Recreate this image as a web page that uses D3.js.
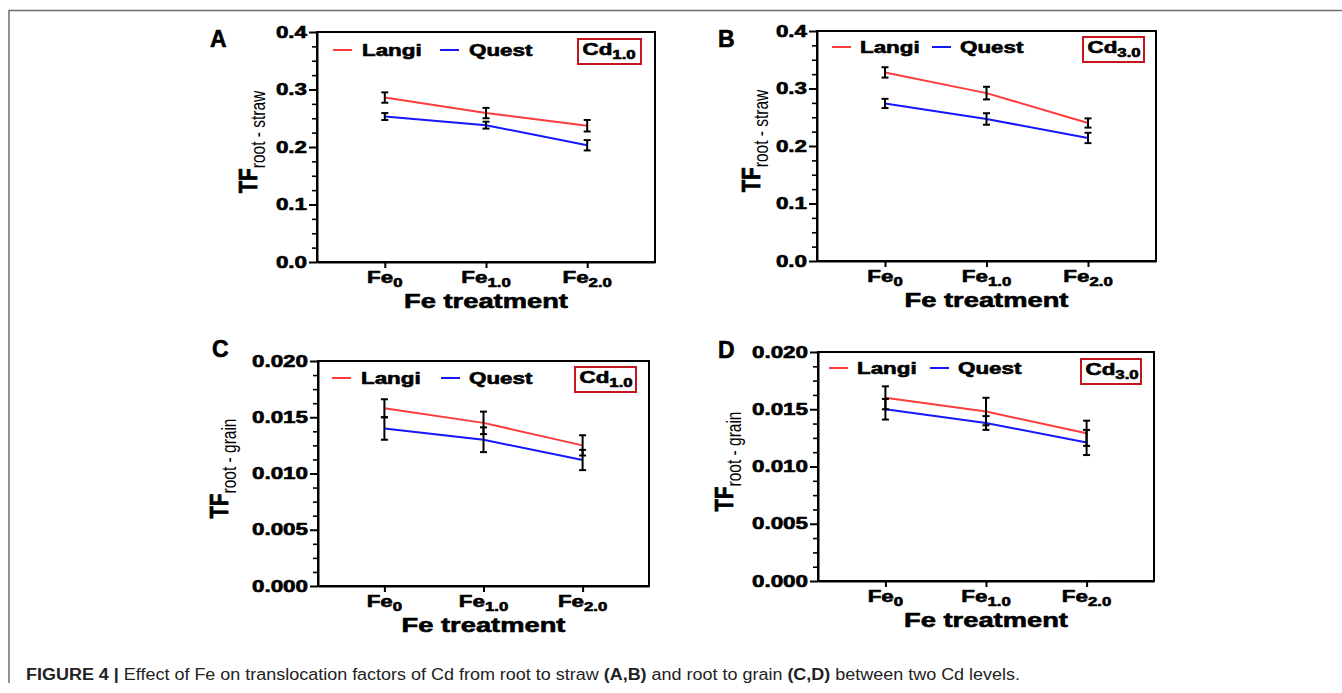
<!DOCTYPE html>
<html>
<head>
<meta charset="utf-8">
<script src="https://cdn.jsdelivr.net/npm/d3@7"></script>
<style>
  body { margin: 0; background: #fff; }
  svg { display: block; font-family: "Liberation Sans", Arial, Helvetica, sans-serif; }
</style>
</head>
<body>
<svg id="fig" width="1342" height="693"></svg>
<script>
// categories / tick labels
const categories = ["Fe0", "Fe1.0", "Fe2.0"];
const feBase = "Fe";
const feSubs = ["0", "1.0", "2.0"];
const seriesNames = ["Langi", "Quest"];
const strawTicks = [0, 0.1, 0.2, 0.3, 0.4];
const grainTicks = [0, 0.005, 0.010, 0.015, 0.020];

// A: root -> straw, Cd 1.0
const langiStrawCd1 = [0.286, 0.259, 0.237];
const langiStrawCd1Err = [0.009, 0.009, 0.010];
const questStrawCd1 = [0.253, 0.238, 0.203];
const questStrawCd1Err = [0.006, 0.006, 0.009];
// B: root -> straw, Cd 3.0
const langiStrawCd3 = [0.328, 0.292, 0.240];
const langiStrawCd3Err = [0.009, 0.011, 0.008];
const questStrawCd3 = [0.274, 0.247, 0.214];
const questStrawCd3Err = [0.008, 0.010, 0.009];
// C: root -> grain, Cd 1.0
const langiGrainCd1 = [0.0158, 0.0145, 0.0125];
const langiGrainCd1Err = [0.0008, 0.0010, 0.0009];
const questGrainCd1 = [0.0140, 0.0130, 0.0112];
const questGrainCd1Err = [0.0010, 0.0011, 0.0009];
// D: root -> grain, Cd 3.0
const langiGrainCd3 = [0.0160, 0.0148, 0.0129];
const langiGrainCd3Err = [0.0010, 0.0012, 0.0011];
const questGrainCd3 = [0.0150, 0.0138, 0.0121];
const questGrainCd3Err = [0.0009, 0.0006, 0.0011];

const RED = "#ff3c3c", BLUE = "#1616ff", BOXRED = "#c4161c";
const SX = 1.4; // the figure's text is stretched horizontally

const panels = [
  { letter: "A", cd: "1.0", sub: "root - straw", ticks: strawTicks, fmt: ".1f",
    langi: langiStrawCd1, langiErr: langiStrawCd1Err, quest: questStrawCd1, questErr: questStrawCd1Err,
    box: { l: 317, t: 32, r: 655, b: 262 }, letterPos: [210, 47], titleGap: 60,
    leg: { x: 16, y: 18, lt: 45, bx: 123, qt: 152 }, cdBox: { dx: -77, dy: 7, w: 63 } },
  { letter: "B", cd: "3.0", sub: "root - straw", ticks: strawTicks, fmt: ".1f",
    langi: langiStrawCd3, langiErr: langiStrawCd3Err, quest: questStrawCd3, questErr: questStrawCd3Err,
    box: { l: 817, t: 31, r: 1156, b: 261 }, letterPos: [718, 47], titleGap: 57,
    leg: { x: 15, y: 16, lt: 43, bx: 115, qt: 143 }, cdBox: { dx: -73, dy: 6, w: 61 } },
  { letter: "C", cd: "1.0", sub: "root - grain", ticks: grainTicks, fmt: ".3f",
    langi: langiGrainCd1, langiErr: langiGrainCd1Err, quest: questGrainCd1, questErr: questGrainCd1Err,
    box: { l: 318, t: 361, r: 649, b: 586 }, letterPos: [212, 357], titleGap: 90,
    leg: { x: 14, y: 17, lt: 43, bx: 123, qt: 151 }, cdBox: { dx: -74, dy: 6, w: 61 } },
  { letter: "D", cd: "3.0", sub: "root - grain", ticks: grainTicks, fmt: ".3f",
    langi: langiGrainCd3, langiErr: langiGrainCd3Err, quest: questGrainCd3, questErr: questGrainCd3Err,
    box: { l: 818, t: 352, r: 1154, b: 581 }, letterPos: [718, 358], titleGap: 85,
    leg: { x: 11, y: 16, lt: 39, bx: 112, qt: 140 }, cdBox: { dx: -73, dy: 7, w: 60 } }
];

const svg = d3.select("#fig");

// outer frame of the figure
svg.append("path")
  .attr("d", "M9,683V10.5H1342")
  .attr("fill", "none").attr("stroke", "#6e6e6e").attr("stroke-width", 1.5);

function heavy(sel) {
  return sel.attr("stroke", "#000").attr("stroke-width", 0.6).attr("stroke-linejoin", "round");
}

function stretched(g, x, y, anchor) {
  return heavy(g.append("text")
    .attr("transform", `translate(${x},${y}) scale(${SX},1)`)
    .attr("text-anchor", anchor || "start")
    .attr("font-weight", "bold")
    .attr("fill", "#000"));
}

panels.forEach(p => {
  const g = svg.append("g");
  const b = p.box;
  const x = d3.scalePoint().domain(categories).range([b.l, b.r]).padding(0.67);
  const y = d3.scaleLinear().domain([0, d3.max(p.ticks)]).range([b.b, b.t]);

  // frame of plot
  g.append("rect")
    .attr("x", b.l).attr("y", b.t).attr("width", b.r - b.l).attr("height", b.b - b.t)
    .attr("fill", "none").attr("stroke", "#000").attr("stroke-width", 2);

  // minor ticks: 3 between each pair of majors
  const minor = [];
  for (let i = 0; i < p.ticks.length - 1; i++) {
    const step = (p.ticks[i + 1] - p.ticks[i]) / 4;
    for (let k = 1; k < 4; k++) minor.push(p.ticks[i] + step * k);
  }
  g.append("g").attr("transform", `translate(${b.l},0)`)
    .call(d3.axisLeft(y).tickValues(minor).tickSize(5).tickSizeOuter(0).tickFormat(""))
    .call(s => s.select(".domain").remove())
    .call(s => s.selectAll("line").attr("stroke-width", 1.6));

  const yAx = g.append("g").attr("transform", `translate(${b.l},0)`)
    .call(d3.axisLeft(y).tickValues(p.ticks).tickSize(8).tickSizeOuter(0).tickFormat(d3.format(p.fmt)));
  yAx.select(".domain").attr("stroke-width", 2);
  yAx.selectAll("line").attr("stroke-width", 2);
  heavy(yAx.selectAll("text")
    .attr("x", -10 / SX)
    .attr("transform", `scale(${SX},1)`)
    .attr("fill", "#000")
    .style("font-size", "16px").style("font-weight", "bold")
    .style("font-family", "'Liberation Sans', Arial, sans-serif"));

  const xAx = g.append("g").attr("transform", `translate(0,${b.b})`)
    .call(d3.axisBottom(x).tickSize(6).tickSizeOuter(0).tickFormat(""));
  xAx.select(".domain").attr("stroke-width", 2);
  xAx.selectAll("line").attr("stroke-width", 2);

  categories.forEach((c, i) => {
    const t = stretched(g, x(c), b.b + 21, "middle").style("font-size", "16px");
    t.append("tspan").text(feBase);
    t.append("tspan").attr("dy", 4).style("font-size", "12px").text(feSubs[i]);
  });

  stretched(g, (b.l + b.r) / 2, b.b + 46, "middle")
    .style("font-size", "19.5px").text("Fe treatment");

  // y title
  const yt = g.append("text")
    .attr("transform", `translate(${b.l - p.titleGap},${(b.t + b.b) / 2 - 5}) scale(1.3,1) rotate(-90)`)
    .attr("text-anchor", "middle").attr("fill", "#000");
  heavy(yt.append("tspan").attr("font-weight", "bold").style("font-size", "20.5px").text("TF"));
  yt.append("tspan").attr("dy", 6).style("font-size", "15.5px").text(p.sub);

  // panel letter
  heavy(g.append("text").attr("x", p.letterPos[0]).attr("y", p.letterPos[1])
    .attr("font-weight", "bold").style("font-size", "23px").text(p.letter));

  // lines
  const line = d3.line().x((d, i) => x(categories[i])).y(d => y(d));
  const series = [
    { v: p.langi, e: p.langiErr, c: RED },
    { v: p.quest, e: p.questErr, c: BLUE }
  ];
  series.forEach(s => {
    g.append("path").datum(s.v).attr("d", line)
      .attr("fill", "none").attr("stroke", s.c).attr("stroke-width", 2);
  });
  series.forEach(s => {
    const eg = g.append("g").attr("stroke", "#000").attr("stroke-width", 2);
    s.v.forEach((v, i) => {
      const cx = x(categories[i]);
      const y1 = y(v + s.e[i]), y2 = y(v - s.e[i]);
      eg.append("line").attr("x1", cx).attr("x2", cx).attr("y1", y1).attr("y2", y2);
      eg.append("line").attr("x1", cx - 3.5).attr("x2", cx + 3.5).attr("y1", y1).attr("y2", y1);
      eg.append("line").attr("x1", cx - 3.5).attr("x2", cx + 3.5).attr("y1", y2).attr("y2", y2);
    });
  });

  // legend
  const L = p.leg, ly = b.t + L.y;
  g.append("line").attr("x1", b.l + L.x).attr("x2", b.l + L.x + 19).attr("y1", ly).attr("y2", ly)
    .attr("stroke", RED).attr("stroke-width", 2);
  stretched(g, b.l + L.lt, ly + 5.5).style("font-size", "16px").text(seriesNames[0]);
  g.append("line").attr("x1", b.l + L.bx).attr("x2", b.l + L.bx + 19).attr("y1", ly).attr("y2", ly)
    .attr("stroke", BLUE).attr("stroke-width", 2);
  stretched(g, b.l + L.qt, ly + 5.5).style("font-size", "16px").text(seriesNames[1]);

  // Cd level box
  const cb = p.cdBox, bx = b.r + cb.dx, by = b.t + cb.dy;
  g.append("rect").attr("x", bx).attr("y", by).attr("width", cb.w).attr("height", 25)
    .attr("fill", "#fff").attr("stroke", BOXRED).attr("stroke-width", 2);
  const ct = stretched(g, bx + 4.5, by + 16).style("font-size", "16px");
  ct.append("tspan").text("Cd");
  ct.append("tspan").attr("dy", 4).style("font-size", "12px").text(p.cd);
});

// caption
const cap = svg.append("text").attr("x", 26).attr("y", 680)
  .attr("fill", "#222").style("font-size", "16px")
  .attr("textLength", 994).attr("lengthAdjust", "spacingAndGlyphs");
cap.append("tspan").attr("font-weight", "bold").text("FIGURE 4 | ");
cap.append("tspan").text("Effect of Fe on translocation factors of Cd from root to straw ");
cap.append("tspan").attr("font-weight", "bold").text("(A,B)");
cap.append("tspan").text(" and root to grain ");
cap.append("tspan").attr("font-weight", "bold").text("(C,D)");
cap.append("tspan").text(" between two Cd levels.");
</script>
</body>
</html>
